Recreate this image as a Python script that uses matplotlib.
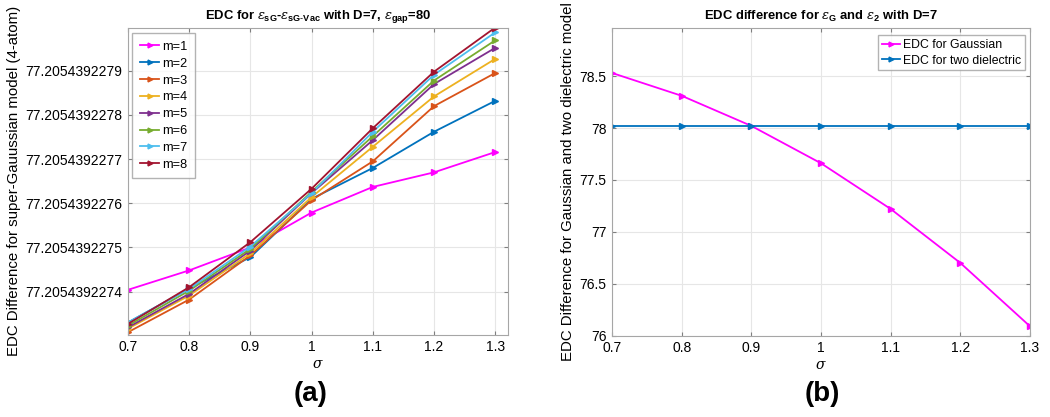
import numpy as np
import matplotlib
matplotlib.use('Agg')
import matplotlib.pyplot as plt
from matplotlib.ticker import FormatStrFormatter

plt.rcParams['font.family'] = ['Liberation Sans', 'DejaVu Sans']
plt.rcParams['mathtext.fontset'] = 'custom'
plt.rcParams['mathtext.rm'] = 'Liberation Sans'
plt.rcParams['mathtext.bf'] = 'Liberation Sans:bold'
plt.rcParams['mathtext.it'] = 'DejaVu Serif:italic'

sigma = [0.7, 0.8, 0.9, 1.0, 1.1, 1.2, 1.3]

# panel (a): EDC = 77.205439227 + u * 1e-10
base_a = 77.205439227
u_m = {
    'm=1': [4.04, 4.48, 5.00, 5.79, 6.37, 6.70, 7.16],
    'm=2': [3.30, 4.07, 4.78, 6.10, 6.80, 7.62, 8.32],
    'm=3': [3.08, 3.82, 4.82, 6.07, 6.95, 8.20, 8.95],
    'm=4': [3.16, 3.91, 4.87, 6.14, 7.28, 8.42, 9.27],
    'm=5': [3.19, 3.95, 4.93, 6.23, 7.43, 8.70, 9.52],
    'm=6': [3.23, 4.02, 4.97, 6.26, 7.52, 8.78, 9.69],
    'm=7': [3.30, 4.06, 5.02, 6.23, 7.62, 8.91, 9.87],
    'm=8': [3.27, 4.10, 5.12, 6.33, 7.70, 8.98, 9.98],
}
colors_m = ['#ff00ff', '#0072bd', '#d95319', '#edb120',
            '#7e2f8e', '#77ac30', '#4dbeee', '#a2142f']

# panel (b)
edc_gauss = [78.53, 78.31, 78.02, 77.66, 77.22, 76.70, 76.09]
edc_two = [78.02, 78.02, 78.02, 78.02, 78.02, 78.02, 78.02]

fig = plt.figure(figsize=(10.5, 4.17), dpi=100)
ax1 = fig.add_axes([0.1219, 0.197, 0.362, 0.737])
ax2 = fig.add_axes([0.583, 0.195, 0.398, 0.737])

for (name, u), c in zip(u_m.items(), colors_m):
    vals = base_a + np.array(u) * 1e-10
    ax1.plot(sigma, vals, color=c, marker='>', markersize=5, lw=1.3, label=name)

ax1.set_xlim(0.7, 1.321)
ax1.set_ylim(base_a + 3.02e-10, base_a + 9.98e-10)
ax1.set_xticks(sigma)
ax1.set_xticklabels(['0.7', '0.8', '0.9', '1', '1.1', '1.2', '1.3'])
ax1.set_yticks(base_a + np.arange(4, 10) * 1e-10)
ax1.yaxis.set_major_formatter(FormatStrFormatter('%.10f'))
ax1.set_title(r'EDC for $\epsilon_{\mathbf{sG}}$-$\epsilon_{\mathbf{sG}\text{-}\mathbf{Vac}}$ with D=7, $\epsilon_{\mathbf{gap}}$=80',
              fontsize=9.4, fontweight='bold', pad=6)
ax1.set_ylabel('EDC Difference for super-Gauussian model (4-atom)', fontsize=10.8, labelpad=3)
ax1.legend(loc='upper left', fontsize=9.2, handlelength=1.5, handletextpad=0.2,
           borderpad=0.6, labelspacing=0.38, borderaxespad=0.2, fancybox=False,
           markerscale=0.7, edgecolor='#a0a0a0', bbox_to_anchor=(0.005, 0.99))

ax2.plot(sigma, edc_gauss, color='#ff00ff', marker='>', markersize=5, lw=1.3, label='EDC for Gaussian')
ax2.plot(sigma, edc_two, color='#0072bd', marker='>', markersize=5, lw=1.3, label='EDC for two dielectric')
ax2.set_xlim(0.7, 1.3)
ax2.set_ylim(76, 78.96)
ax2.set_xticks(sigma)
ax2.set_xticklabels(['0.7', '0.8', '0.9', '1', '1.1', '1.2', '1.3'])
ax2.set_yticks([76, 76.5, 77, 77.5, 78, 78.5])
ax2.set_yticklabels(['76', '76.5', '77', '77.5', '78', '78.5'])
ax2.set_title(r'EDC difference for $\epsilon_{\mathbf{G}}$ and $\epsilon_{\mathbf{2}}$ with D=7',
              fontsize=9.4, fontweight='bold', pad=6)
ax2.set_ylabel('EDC Difference for Gaussian and two dielectric model', fontsize=10.8, labelpad=3)
ax2.legend(loc='upper right', fontsize=8.8, handlelength=1.5, handletextpad=0.2,
           borderpad=0.3, labelspacing=0.3, borderaxespad=0.2, fancybox=False,
           markerscale=0.7, edgecolor='#a0a0a0', bbox_to_anchor=(0.993, 0.985))

for ax in (ax1, ax2):
    ax.grid(True, color='#e6e6e6', lw=0.8)
    ax.set_axisbelow(True)
    ax.tick_params(direction='in', top=True, right=True, length=3, labelsize=10,
                   color='#7f7f7f', pad=4)
    for s in ax.spines.values():
        s.set_color('#a6a6a6')
    ax.set_xlabel(r'$\sigma$', fontsize=10, labelpad=2)

fig.text(0.296, 0.055, '(a)', fontsize=20, fontweight='bold', ha='center', va='center')
fig.text(0.783, 0.055, '(b)', fontsize=20, fontweight='bold', ha='center', va='center')

fig.savefig('out.png', dpi=100)
